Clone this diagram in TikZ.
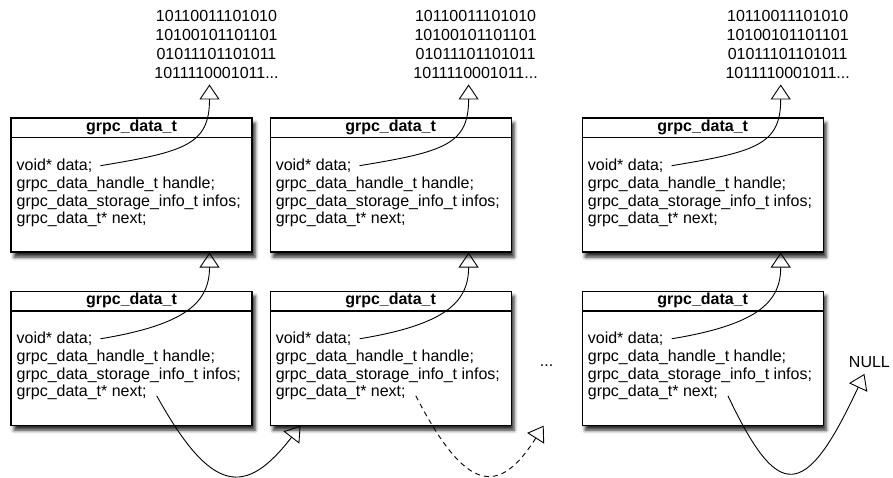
\documentclass[tikz,border=0pt]{standalone}
\usepackage{fontspec}
\setmainfont{Liberation Sans}
\usetikzlibrary{arrows.meta,positioning,calc,shadows.blur}
\tikzset{>={Triangle[open,length=15pt,width=20pt]}}
\tikzset{
  block/.style={draw, fill=white, line width=1.1pt, minimum width=241pt,
    minimum height=134pt, inner sep=0pt,
    blur shadow={shadow xshift=3pt, shadow yshift=-5pt, shadow blur radius=3.5pt, shadow opacity=85}},
  blockhead/.style={anchor=north, minimum width=241pt, minimum height=20pt, inner sep=0pt,
    font=\bfseries\fontsize{16}{18}\selectfont},
  field/.style={anchor=base west, inner sep=0pt, font=\fontsize{16}{18}\selectfont},
  bits/.style={align=center, inner xsep=0pt, inner ysep=6pt, font=\fontsize{16}{19}\selectfont},
  ptr/.style={->, line width=0.9pt},
}
% one grpc_data_t record: #1 name, #2 placement
\newcommand{\datablock}[2]{
   \node[block, #2] (#1) {};
   \node[blockhead] (#1head) at (#1.north) {grpc\_data\_t};
   \draw[line width=1.1pt] (#1head.south west) -- (#1head.south east);
   \node[field] (#1data) at ($ (#1.north west)+(6pt,-53pt) $) {void* data;};
   \node[field] (#1handle) at ($ (#1data.base west)+(0,-17.8pt) $) {grpc\_data\_handle\_t handle;};
   \node[field] (#1infos) at ($ (#1handle.base west)+(0,-17.8pt) $) {grpc\_data\_storage\_info\_t infos;};
   \node[field] (#1next) at ($ (#1infos.base west)+(0,-17.8pt) $) {grpc\_data\_t* next;};
}
\newcommand{\bitstring}[1]{
   \node[bits, above=33pt of #1, xshift=85pt] (#1bits) {10110011101010\\10100101101101\\01011101101011\\1011110001011...};
}

\begin{document}
\begin{tikzpicture}
		\useasboundingbox (0,0) rectangle (893pt,-477pt);

		% Records
		\datablock{b1}{at={(131.5pt,-185pt)}}
		\datablock{b2}{right=17pt of b1}
		\datablock{b3}{right=70pt of b2}
		\datablock{c1}{below=38pt of b1}
		\datablock{c2}{below=38pt of b2}
		\datablock{c3}{below=38pt of b3}

		% Data
		\bitstring{b1}
		\bitstring{b2}
		\bitstring{b3}

		\node[font=\fontsize{16}{18}\selectfont, anchor=base, yshift=-8pt] (dots) at ($ (c2.east)!.5!(c3.west) $) {...};
		\node[font=\fontsize{16}{18}\selectfont, inner sep=0pt, right=25pt of c3, yshift=-4pt] (null) {NULL};
		\coordinate (skip) at ([xshift=32pt]c2.south east);

		% data pointers
		\draw[ptr] ([xshift=8pt]b1data.east) .. controls +(85pt,14pt) and +(0pt,-60pt) .. ([xshift=-7pt]b1bits.south);
		\draw[ptr] ([xshift=8pt]b2data.east) .. controls +(85pt,14pt) and +(0pt,-60pt) .. ([xshift=-7pt]b2bits.south);
		\draw[ptr] ([xshift=8pt]b3data.east) .. controls +(85pt,14pt) and +(0pt,-60pt) .. ([xshift=-7pt]b3bits.south);
		\draw[ptr] ([xshift=8pt]c1data.east) .. controls +(85pt,14pt) and +(0pt,-50pt) .. ([xshift=78pt]b1.south);
		\draw[ptr] ([xshift=8pt]c2data.east) .. controls +(85pt,14pt) and +(0pt,-50pt) .. ([xshift=78pt]b2.south);
		\draw[ptr] ([xshift=8pt]c3data.east) .. controls +(85pt,14pt) and +(0pt,-50pt) .. ([xshift=78pt]b3.south);

		% next pointers
		\draw[ptr] ([xshift=10pt,yshift=-3pt]c1next.east) .. controls +(55pt,-99pt) and +(-55pt,-71pt) .. ([xshift=31pt]c2.south west);
		\draw[ptr, dash pattern=on 5pt off 4pt] ([xshift=10pt,yshift=-3pt]c2next.east) .. controls +(50pt,-97pt) and +(-45pt,-71pt) .. (skip);
		\draw[ptr] ([xshift=10pt,yshift=-3pt]c3next.east) .. controls +(50pt,-105pt) and +(-60pt,-129pt) .. ([xshift=-5pt,yshift=-6pt]null.south);
\end{tikzpicture}
\end{document}
